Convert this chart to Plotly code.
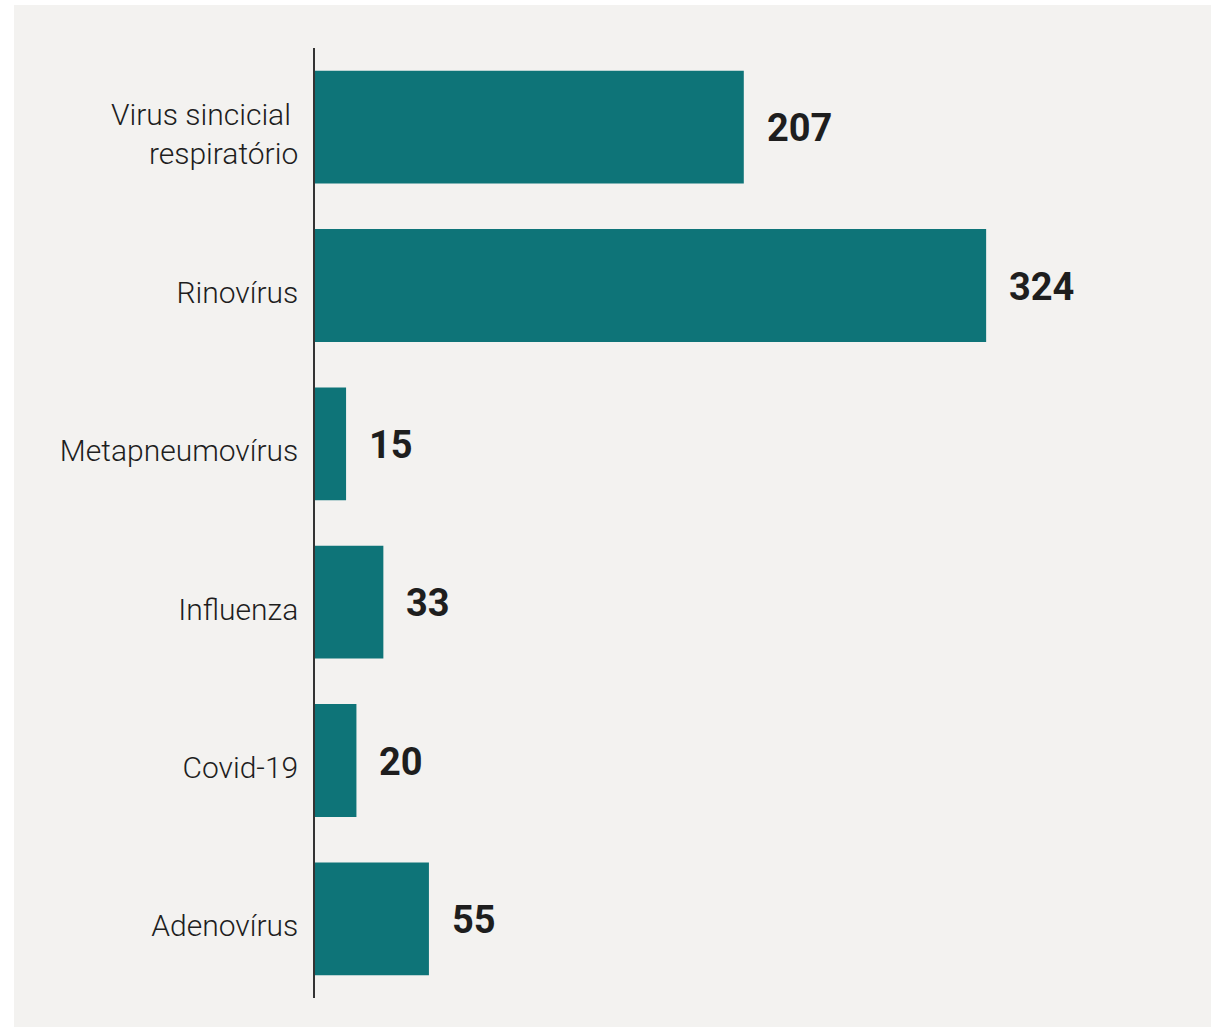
import plotly.graph_objects as go

categories = ["Virus sincicial\u00a0<br>respiratório", "Rinovírus", "Metapneumovírus",
              "Influenza", "Covid-19", "Adenovírus"]
values = [207, 324, 15, 33, 20, 55]
value_labels = [str(v) for v in values]

BAR = "#0e7478"
BG = "#f3f2f0"
TXT = "#1e1e1e"

fig = go.Figure()
fig.add_trace(go.Bar(
    x=values, y=categories, orientation="h",
    marker=dict(color=BAR, line=dict(width=0)),
    hoverinfo="skip",
))

for v, c, t in zip(values, categories, value_labels):
    fig.add_annotation(x=v, y=c, text=t, showarrow=False, xanchor="left",
                       yanchor="middle", xshift=21, yshift=-1,
                       font=dict(family="Roboto", size=38, color=TXT, weight="bold"))

# gray panel behind the chart (paper fractions relative to the plot area)
fig.add_shape(type="rect", xref="paper", yref="paper", layer="below",
              x0=-0.346, x1=1.0299, y0=-0.0305, y1=1.0453,
              fillcolor=BG, line=dict(width=0))

fig.update_layout(
    width=1216, height=1029,
    margin=dict(l=315, r=31, t=48, b=31),
    paper_bgcolor="white",
    plot_bgcolor="rgba(0,0,0,0)",
    bargap=0.287,
    showlegend=False,
    xaxis=dict(range=[0, 420], visible=False, showgrid=False, zeroline=False),
    yaxis=dict(autorange="reversed", showgrid=False, zeroline=False,
               showline=True, linecolor="#333333", linewidth=1.5,
               ticks="", ticklabelstandoff=9, ticklabelshift=-7,
               tickfont=dict(family="Roboto", size=30, color=TXT, weight=300)),
)

fig.write_html("out.html", config={"displayModeBar": False},
               post_script="document.body.style.margin='0';")
